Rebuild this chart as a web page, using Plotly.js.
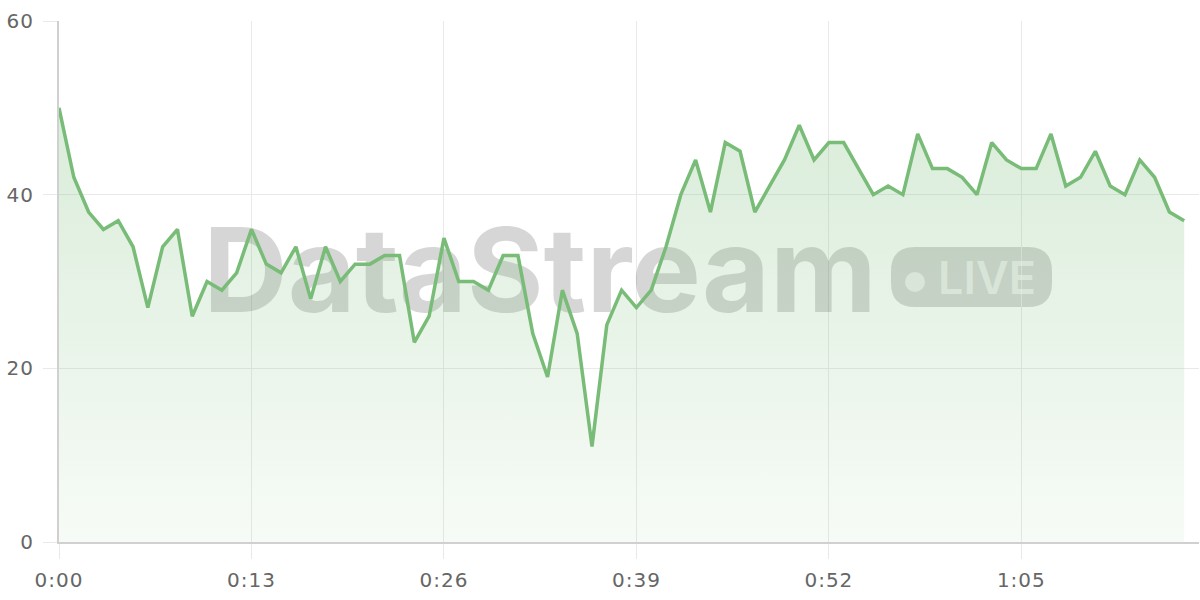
<!DOCTYPE html>
<html>
<head>
<meta charset="utf-8">
<script src="https://cdn.plot.ly/plotly-3.0.1.min.js"></script>
<style>
html,body{margin:0;padding:0;background:#fff;}
#chart{width:1200px;height:600px;}
#chart .xtick text, #chart .ytick text{letter-spacing:1px;}
</style>
</head>
<body>
<div id="chart"></div>
<script>
// seconds since start
var seconds = [];
for (var s = 0; s <= 76; s++) seconds.push(s);

var values = [
  50, 42, 38, 36, 37, 34, 27, 34, 36, 26,
  30, 29, 31, 36, 32, 31, 34, 28, 34, 30,
  32, 32, 33, 33, 23, 26, 35, 30, 30, 29,
  33, 33, 24, 19, 29, 24, 11, 25, 29, 27,
  29, 34, 40, 44, 38, 46, 45, 38, 41, 44,
  48, 44, 46, 46, 43, 40, 41, 40, 47, 43,
  43, 42, 40, 46, 44, 43, 43, 47, 41, 42,
  45, 41, 40, 44, 42, 38, 37
];

var xTickVals = [0, 13, 26, 39, 52, 65];
var xTickText = ['0:00', '0:13', '0:26', '0:39', '0:52', '1:05'];
var yTickVals = [0, 20, 40, 60];

var watermarkText = 'DataStream';
var badgeText = 'LIVE';

// plot geometry (pixels) for decorative watermark placement
var L = 59, T = 21, W = 1140, H = 521;
var XMAX = 77, YMAX = 60;
function px(x){ return (x - L) / W; }
function py(y){ return (T + H - y) / H; }
function dx(x){ return px(x) * XMAX; }
function dy(y){ return py(y) * YMAX; }

function roundRect(x0, y0, x1, y1, r){
  var X0 = px(x0), X1 = px(x1), Y0 = py(y0), Y1 = py(y1);
  var rx = r / W, ry = r / H;
  return 'M' + (X0+rx) + ',' + Y0 +
    ' L' + (X1-rx) + ',' + Y0 +
    ' Q' + X1 + ',' + Y0 + ' ' + X1 + ',' + (Y0-ry) +
    ' L' + X1 + ',' + (Y1+ry) +
    ' Q' + X1 + ',' + Y1 + ' ' + (X1-rx) + ',' + Y1 +
    ' L' + (X0+rx) + ',' + Y1 +
    ' Q' + X0 + ',' + Y1 + ' ' + X0 + ',' + (Y1+ry) +
    ' L' + X0 + ',' + (Y0-ry) +
    ' Q' + X0 + ',' + Y0 + ' ' + (X0+rx) + ',' + Y0 + ' Z';
}

var watermark = {
  x: [dx(540)], y: [dy(283)],
  type: 'scatter', mode: 'text',
  text: [watermarkText],
  textposition: 'middle center',
  textfont: {family: 'Inter, Noto Sans, sans-serif', size: 117, weight: 700, color: 'rgba(0,0,0,0.16)'},
  hoverinfo: 'skip', cliponaxis: false
};

var badge = {
  x: [dx(987)], y: [dy(283)],
  type: 'scatter', mode: 'text',
  text: [badgeText],
  textposition: 'middle center',
  textfont: {family: 'Inter, Noto Sans, sans-serif', size: 45, weight: 600, color: 'rgba(255,255,255,0.6)'},
  hoverinfo: 'skip', cliponaxis: false
};

var trace = {
  x: seconds,
  y: values,
  type: 'scatter',
  mode: 'lines',
  line: {color: 'rgb(120,188,120)', width: 3.5},
  fill: 'tozeroy',
  fillgradient: {
    type: 'vertical',
    start: 0,
    stop: 60,
    colorscale: [[0, 'rgba(120,188,120,0.06)'], [1, 'rgba(120,188,120,0.32)']]
  },
  hoverinfo: 'skip'
};

var tickFont = {family: 'DejaVu Sans, Liberation Sans, sans-serif', size: 20, color: '#666'};

var layout = {
  width: 1200,
  height: 600,
  margin: {l: L, r: 1200 - L - W, t: T, b: 600 - T - H},
  paper_bgcolor: '#fff',
  plot_bgcolor: 'rgba(0,0,0,0)',
  showlegend: false,
  hovermode: false,
  xaxis: {
    range: [0, XMAX],
    tickmode: 'array',
    tickvals: xTickVals,
    ticktext: xTickText,
    showgrid: true,
    gridcolor: '#e9e9e9',
    gridwidth: 1,
    zeroline: false,
    showline: true,
    linecolor: '#d0d0d0',
    linewidth: 2,
    ticks: 'outside',
    ticklen: 15,
    tickcolor: '#e9e9e9',
    tickwidth: 1,
    ticklabelstandoff: 4,
    tickfont: tickFont,
    fixedrange: true
  },
  yaxis: {
    range: [0, YMAX],
    tickmode: 'array',
    tickvals: yTickVals,
    showgrid: true,
    gridcolor: '#e9e9e9',
    gridwidth: 1,
    zeroline: false,
    showline: true,
    linecolor: '#d0d0d0',
    linewidth: 2,
    ticks: 'outside',
    ticklen: 14,
    tickcolor: '#e9e9e9',
    tickwidth: 1,
    ticklabelstandoff: 5,
    tickfont: tickFont,
    fixedrange: true
  },
  shapes: [
    {type: 'path', xref: 'paper', yref: 'paper', path: roundRect(891, 247, 1052, 307, 24),
     fillcolor: 'rgba(0,0,0,0.16)', line: {width: 0}, layer: 'between'},
    {type: 'circle', xref: 'paper', yref: 'paper',
     x0: px(905), x1: px(925), y0: py(292), y1: py(272),
     fillcolor: 'rgba(255,255,255,0.6)', line: {width: 0}, layer: 'between'}
  ]
};

Plotly.newPlot('chart', [watermark, badge, trace], layout, {displayModeBar: false, staticPlot: true});
</script>
</body>
</html>
